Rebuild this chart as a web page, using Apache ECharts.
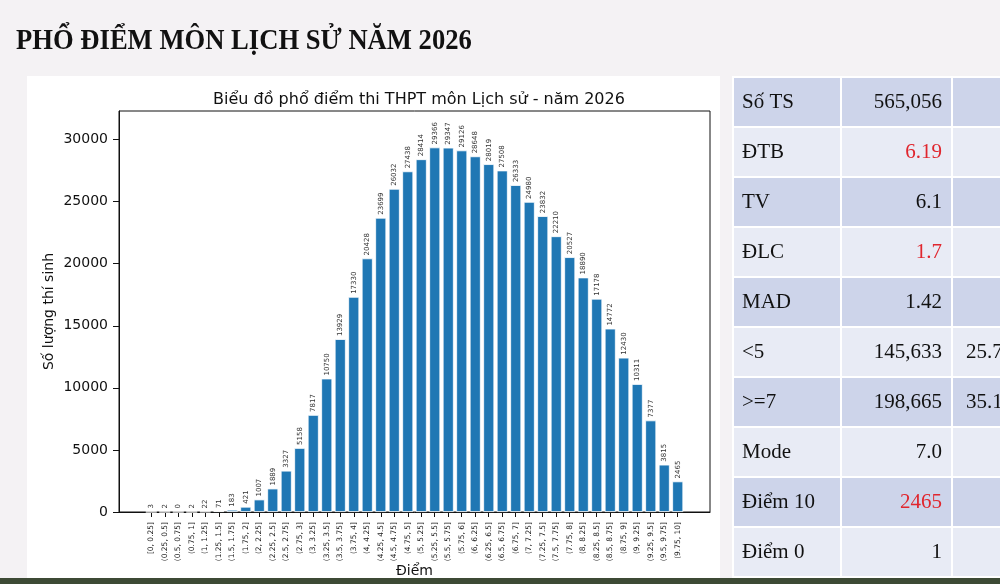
<!DOCTYPE html>
<html>
<head>
  <meta charset="utf-8">
  <title>Phổ điểm Lịch sử 2026</title>
  <script src="https://cdn.jsdelivr.net/npm/echarts@6/dist/echarts.min.js"></script>
  <style>
    html, body { margin: 0; padding: 0; background: #f4f2f4; }
    #main { width: 1000px; height: 584px; }
  </style>
</head>
<body>
  <div id="main"></div>
  <script>
    // khoảng điểm
    var bins = ['[0, 0.25]', '(0.25, 0.5]', '(0.5, 0.75]', '(0.75, 1]', '(1, 1.25]', '(1.25, 1.5]',
      '(1.5, 1.75]', '(1.75, 2]', '(2, 2.25]', '(2.25, 2.5]', '(2.5, 2.75]', '(2.75, 3]',
      '(3, 3.25]', '(3.25, 3.5]', '(3.5, 3.75]', '(3.75, 4]', '(4, 4.25]', '(4.25, 4.5]',
      '(4.5, 4.75]', '(4.75, 5]', '(5, 5.25]', '(5.25, 5.5]', '(5.5, 5.75]', '(5.75, 6]',
      '(6, 6.25]', '(6.25, 6.5]', '(6.5, 6.75]', '(6.75, 7]', '(7, 7.25]', '(7.25, 7.5]',
      '(7.5, 7.75]', '(7.75, 8]', '(8, 8.25]', '(8.25, 8.5]', '(8.5, 8.75]', '(8.75, 9]',
      '(9, 9.25]', '(9.25, 9.5]', '(9.5, 9.75]', '(9.75, 10]'];
    // số thí sinh
    var counts = [3, 2, 0, 2, 22, 71, 183, 421, 1007, 1889, 3327, 5158, 7817, 10750, 13929,
      17330, 20428, 23699, 26032, 27438, 28414, 29366, 29347, 29126, 28648, 28019, 27508,
      26333, 24980, 23832, 22210, 20527, 18890, 17178, 14772, 12430, 10311, 7377, 3815, 2465];
    var yTicks = [0, 5000, 10000, 15000, 20000, 25000, 30000];

    // bảng thống kê bên phải
    var statNames = ['Số TS', 'ĐTB', 'TV', 'ĐLC', 'MAD', '<5', '>=7', 'Mode', 'Điểm 10', 'Điểm 0'];
    var statValues = ['565,056', '6.19', '6.1', '1.7', '1.42', '145,633', '198,665', '7.0', '2465', '1'];
    var statExtra = ['', '', '', '', '', '25.77%', '35.16%', '', '', ''];
    var redRows = ['ĐTB', 'ĐLC', 'Điểm 10'];

    var myChart = echarts.init(document.getElementById('main'));

    var idx = bins.map(function (b, i) { return i; });

    // vẽ bảng bằng graphic
    var tableEls = [];
    var tx = 733, ty = 77, rowH = 50, colW = [108, 111, 60];
    statNames.forEach(function (name, r) {
      var fill = r % 2 === 0 ? '#cdd4ea' : '#e8ebf5';
      var x = tx;
      colW.forEach(function (w) {
        tableEls.push({ type: 'rect', shape: { x: x, y: ty + r * rowH, width: w, height: rowH },
          style: { fill: fill, stroke: '#ffffff', lineWidth: 2 } });
        x += w;
      });
      var cy = ty + r * rowH + rowH / 2;
      tableEls.push({ type: 'text', x: tx + 9, y: cy,
        style: { text: name, fontFamily: 'Liberation Serif', fontSize: 21, fill: '#111',
          align: 'left', verticalAlign: 'middle' } });
      tableEls.push({ type: 'text', x: tx + colW[0] + colW[1] - 10, y: cy,
        style: { text: statValues[r], fontFamily: 'Liberation Serif', fontSize: 21,
          fill: redRows.indexOf(name) >= 0 ? '#e0262e' : '#111',
          align: 'right', verticalAlign: 'middle' } });
      if (statExtra[r]) {
        tableEls.push({ type: 'text', x: tx + colW[0] + colW[1] + 14, y: cy,
          style: { text: statExtra[r], fontFamily: 'Liberation Serif', fontSize: 21, fill: '#111',
            align: 'left', verticalAlign: 'middle' } });
      }
    });

    var option = {
      backgroundColor: '#f4f2f4',
      animation: false,
      textStyle: { fontFamily: 'DejaVu Sans' },
      graphic: [
        { type: 'rect', z: -10, shape: { x: 27, y: 76, width: 693, height: 502 }, style: { fill: '#ffffff' } },
        { type: 'rect', z: -10, shape: { x: 0, y: 578, width: 1000, height: 6 }, style: { fill: '#3d4a35' } },
        { type: 'text', x: 16, y: 41, scaleX: 0.887,
          style: { text: 'PHỔ ĐIỂM MÔN LỊCH SỬ NĂM 2026', fontFamily: 'Liberation Serif',
            fontWeight: 'bold', fontSize: 30, fill: '#111', verticalAlign: 'middle' } }
      ].concat(tableEls),
      title: {
        text: 'Biểu đồ phổ điểm thi THPT môn Lịch sử - năm 2026',
        left: 414, top: 87, textAlign: 'center',
        textStyle: { fontFamily: 'DejaVu Sans', fontSize: 16, fontWeight: 'normal', color: '#111' }
      },
      grid: {
        left: 119, top: 111, width: 591, height: 401,
        outerBoundsMode: 'none',
        show: true, borderColor: '#111', borderWidth: 1
      },
      xAxis: {
        type: 'value',
        min: -2.39,
        max: 41.39,
        name: 'Điểm',
        nameLocation: 'middle',
        nameGap: 52,
        nameMoveOverlap: false,
        nameTextStyle: { fontSize: 14, color: '#111' },
        axisLine: { show: true, onZero: false, lineStyle: { color: '#111' } },
        axisTick: { show: true, length: 5, customValues: idx, lineStyle: { color: '#111' } },
        axisLabel: {
          customValues: idx,
          rotate: 90,
          fontSize: 7.5,
          color: '#222',
          margin: 10,
          formatter: function (v) { return bins[v]; }
        },
        splitLine: { show: false }
      },
      yAxis: {
        type: 'value',
        min: 0,
        max: 32300,
        name: 'Số lượng thí sinh',
        nameLocation: 'middle',
        nameGap: 63,
        nameMoveOverlap: false,
        nameTextStyle: { fontSize: 14, color: '#111' },
        axisLine: { show: true, onZero: false, lineStyle: { color: '#111' } },
        axisTick: { show: true, length: 6, customValues: yTicks, lineStyle: { color: '#111' } },
        axisLabel: {
          customValues: yTicks, fontSize: 14, color: '#111', margin: 11,
          formatter: function (v) { return String(v); }
        },
        splitLine: { show: false }
      },
      series: [
        {
          name: 'Số thí sinh',
          type: 'bar',
          barWidth: 11,
          data: counts.map(function (v, i) { return [i, v]; }),
          itemStyle: { color: '#1f77b4', borderColor: '#ffffff', borderWidth: 0.8 },
          label: {
            show: true,
            position: 'top',
            rotate: 90,
            align: 'left',
            verticalAlign: 'middle',
            distance: 3,
            fontSize: 7,
            color: '#333'
          }
        }
      ]
    };

    myChart.setOption(option);
  </script>
</body>
</html>
